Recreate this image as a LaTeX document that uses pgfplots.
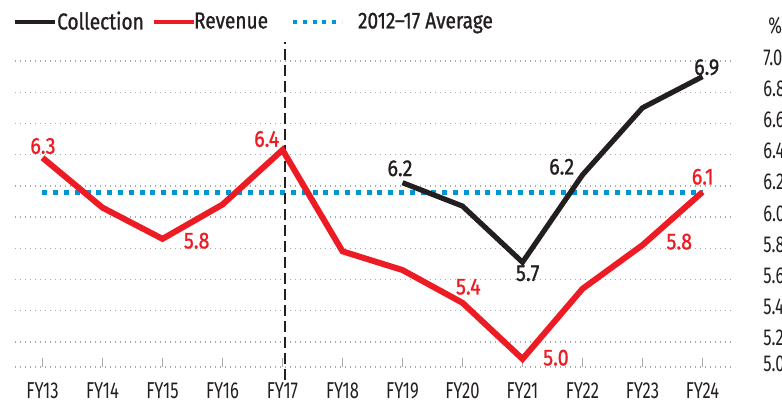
\documentclass[border=0pt]{standalone}
\usepackage{pgfplots}
\pgfplotsset{compat=1.18}
\usepackage{fontspec}
\setmainfont{Fira Sans}[FakeStretch=0.72]
\newfontfamily\labfont{Fira Sans}[FakeStretch=0.86, FakeBold=1]
\newfontfamily\legfont{Fira Sans}[FakeStretch=0.83, FakeBold=1]
\definecolor{cred}{HTML}{ED1C24}
\definecolor{cblack}{HTML}{231F20}
\definecolor{cblue}{HTML}{0096D6}
\definecolor{cgrid}{HTML}{A8A8A8}
\pgfplotsset{avglegend/.style={legend image code/.code={\draw[cblue, line width=2pt, dash pattern=on 2pt off 2.9pt] (0pt,0pt) -- (24.5pt,0pt);}}}
\begin{document}
\begin{tikzpicture}[font=\fontsize{11.5}{13.8}\selectfont]
\begin{axis}[
  at={(7.5pt,-183.5pt)}, anchor=south west,
  scale only axis, width=360pt, height=153pt,
  xmin=-0.4583, xmax=11.5417, ymin=5.0385, ymax=7.0,
  clip=false,
  axis line style={draw=none},
  xtick={0,...,11},
  xticklabels={FY13,FY14,FY15,FY16,FY17,FY18,FY19,FY20,FY21,FY22,FY23,FY24},
  ytick={5.0385,5.2,5.4,5.6,5.8,6.0,6.2,6.4,6.6,6.8,7.0},
  yticklabels={5.0,5.2,5.4,5.6,5.8,6.0,6.2,6.4,6.6,6.8,7.0},
  xtick pos=lower, ytick pos=right, yticklabel pos=right,
  tick align=inside, major tick length=4.5pt,
  xtick style={draw=cgrid, line width=0.7pt},
  ytick style={draw=none},
  ymajorgrids,
  grid style={cgrid, line width=0.7pt, dash pattern=on 0.7pt off 1.8pt},
  xticklabel style={anchor=north, inner sep=0pt, yshift=-7.5pt, text=cblack},
  yticklabel style={anchor=west, inner sep=0pt, xshift=14pt, yshift=1.75pt, text=cblack},
  /pgf/number format/assume math mode=true,
  legend columns=3,
  legend style={at={(-0.0028,1.1275)}, anchor=west, draw=none, fill=none,
    inner sep=0pt, outer sep=0pt, legend cell align=left,
    nodes={inner sep=0pt, text=cblack, font=\fontsize{11.5}{13.8}\legfont},
    column sep=0pt,
    /tikz/column 1/.style={column sep=0pt},
    /tikz/column 2/.style={column sep=4pt},
    /tikz/column 3/.style={column sep=-1pt},
    /tikz/column 4/.style={column sep=11.5pt},
    /tikz/column 5/.style={column sep=7pt}},
  legend image code/.code={\draw[#1] (0pt,0pt) -- (20pt,0pt);},
]
\addlegendimage{cblack, line width=2.1pt}
\addlegendentry{Collection}
\addlegendimage{cred, line width=2.1pt}
\addlegendentry{Revenue}
\addlegendimage{avglegend}
\addlegendentry{2012–17 Average}

% 2012-17 average
\addplot[forget plot, cblue, line width=2.3pt, dash pattern=on 2.5pt off 2.9pt]
  coordinates {(0,6.158) (11,6.158)};
% FY17 divider
\addplot[forget plot, cblack, line width=1pt, dash pattern=on 5.5pt off 2.5pt]
  coordinates {(4.04,4.955) (4.04,7.122)};
% Revenue
\addplot[forget plot, cred, line width=3pt] coordinates {
  (0,6.38) (1,6.06) (2,5.86) (3,6.08) (4,6.43) (5,5.78)
  (6,5.66) (7,5.45) (8,5.09) (9,5.54) (10,5.82) (11,6.16)};
% Collection
\addplot[forget plot, cblack, line width=2.6pt] coordinates {
  (6,6.22) (7,6.07) (8,5.71) (9,6.27) (10,6.70) (11,6.90)};

% data labels
\begin{scope}[every node/.style={font=\fontsize{11.5}{13.8}\labfont, inner sep=0pt}]
\node[text=cred] at (axis cs:0.008,6.455) {6.3};
\node[text=cred] at (axis cs:2.57,5.848) {5.8};
\node[text=cred] at (axis cs:3.737,6.50) {6.4};
\node[text=cred] at (axis cs:7.097,5.553) {5.4};
\node[text=cred] at (axis cs:8.558,5.098) {5.0};
\node[text=cred] at (axis cs:10.613,5.842) {5.8};
\node[text=cred] at (axis cs:11.003,6.258) {6.1};
\node[text=cblack] at (axis cs:5.958,6.312) {6.2};
\node[text=cblack] at (axis cs:8.087,5.639) {5.7};
\node[text=cblack] at (axis cs:8.653,6.322) {6.2};
\node[text=cblack] at (axis cs:11.07,6.96) {6.9};
\end{scope}
\node[text=cblack] at (axis cs:12.21,7.226) {\%};
\end{axis}
\pgfresetboundingbox
\path[use as bounding box] (0pt,0pt) rectangle (391pt,-209.5pt);
\end{tikzpicture}
\end{document}
